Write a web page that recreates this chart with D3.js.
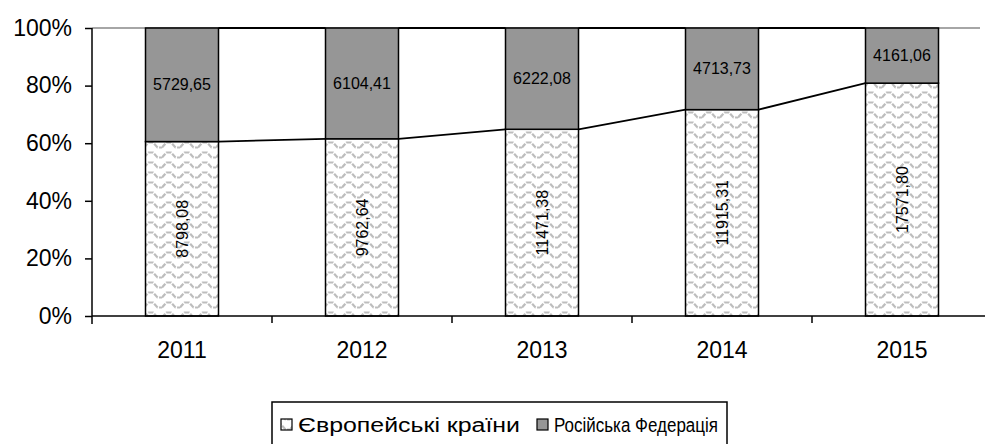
<!DOCTYPE html>
<html>
<head>
<meta charset="utf-8">
<script src="https://cdn.jsdelivr.net/npm/d3@7"></script>
<style>
    body { margin: 0; background: #fff; }
    text { font-family: "Liberation Sans", Arial, sans-serif; fill: #000; }
</style>
</head>
<body>
<div id="chart"></div>
<script>

    // data
    var years = ["2011", "2012", "2013", "2014", "2015"];
    var europe = [8798.08, 9762.64, 11471.38, 11915.31, 17571.80];
    var russia = [5729.65, 6104.41, 6222.08, 4713.73, 4161.06];
    var europeLabels = ["8798,08", "9762,64", "11471,38", "11915,31", "17571,80"];
    var russiaLabels = ["5729,65", "6104,41", "6222,08", "4713,73", "4161,06"];
    var yTicks = [0, 0.2, 0.4, 0.6, 0.8, 1];
    var seriesNames = ["Європейські країни", "Російська Федерація"];

    var width = 985, height = 444;
    var margin = {top: 28, left: 92, bottom: 128};

    var svg = d3.select("#chart")
        .append("svg")
        .attr("width", width)
        .attr("height", height);

    // zigzag pattern for the european part
    var defs = svg.append("defs");
    var pat = defs.append("pattern")
        .attr("id", "zigzag")
        .attr("patternUnits", "userSpaceOnUse")
        .attr("width", 18)
        .attr("height", 10);
    pat.append("rect").attr("width", 18).attr("height", 10).attr("fill", "#fff");
    pat.append("path")
        .attr("d", "M0,7.5 L4.5,2.5 L9,2.5 L13.5,7.5 L18,7.5")
        .attr("fill", "none")
        .attr("stroke", "#bdbdbd")
        .attr("stroke-width", 2.2)
        .attr("stroke-dasharray", "5,1.5");

    var x = d3.scaleBand()
        .domain(years)
        .range([margin.left, margin.left + 900]);

    var y = d3.scaleLinear()
        .domain([0, 1])
        .range([height - margin.bottom, margin.top]);

    var barW = 73;

    var rows = years.map(function (yr, i) {
        var total = europe[i] + russia[i];
        return {year: yr, eu: europe[i], ru: russia[i], share: europe[i] / total,
                euLabel: europeLabels[i], ruLabel: russiaLabels[i]};
    });

    // top gridline at 100%
    svg.append("line")
        .attr("x1", margin.left).attr("x2", width - 5)
        .attr("y1", y(1)).attr("y2", y(1))
        .attr("stroke", "#888")
        .attr("stroke-width", 1.5);

    // bars
    var bars = svg.append("g").selectAll("g.bar")
        .data(rows)
        .enter()
        .append("g");

    bars.append("rect")
        .attr("x", function (d) { return x(d.year) + (x.bandwidth() - barW) / 2; })
        .attr("y", function (d) { return y(d.share); })
        .attr("width", barW)
        .attr("height", function (d) { return y(0) - y(d.share); })
        .attr("fill", "url(#zigzag)")
        .attr("stroke", "#000")
        .attr("stroke-width", 1.5);

    bars.append("rect")
        .attr("x", function (d) { return x(d.year) + (x.bandwidth() - barW) / 2; })
        .attr("y", y(1))
        .attr("width", barW)
        .attr("height", function (d) { return y(d.share) - y(1); })
        .attr("fill", "#969696")
        .attr("stroke", "#000")
        .attr("stroke-width", 1.5);

    // series lines between bars
    var links = rows.slice(0, -1).map(function (d, i) { return [d, rows[i + 1]]; });
    var lineG = svg.append("g");
    lineG.selectAll("line.share")
        .data(links)
        .enter()
        .append("line")
        .attr("x1", function (p) { return x(p[0].year) + (x.bandwidth() + barW) / 2; })
        .attr("x2", function (p) { return x(p[1].year) + (x.bandwidth() - barW) / 2; })
        .attr("y1", function (p) { return y(p[0].share); })
        .attr("y2", function (p) { return y(p[1].share); })
        .attr("stroke", "#000")
        .attr("stroke-width", 1.8);
    lineG.selectAll("line.top")
        .data(links)
        .enter()
        .append("line")
        .attr("x1", function (p) { return x(p[0].year) + (x.bandwidth() + barW) / 2; })
        .attr("x2", function (p) { return x(p[1].year) + (x.bandwidth() - barW) / 2; })
        .attr("y1", y(1))
        .attr("y2", y(1))
        .attr("stroke", "#000")
        .attr("stroke-width", 1.8);

    // value labels
    bars.append("text")
        .attr("x", function (d) { return x(d.year) + x.bandwidth() / 2; })
        .attr("y", function (d) { return (y(1) + y(d.share)) / 2; })
        .attr("dy", "0.35em")
        .style("text-anchor", "middle")
        .style("font-size", "16px")
        .text(function (d) { return d.ruLabel; });

    bars.append("text")
        .attr("transform", function (d) {
            return "translate(" + (x(d.year) + x.bandwidth() / 2) + "," + ((y(0) + y(d.share)) / 2) + ") rotate(-90)";
        })
        .attr("dy", "0.35em")
        .style("text-anchor", "middle")
        .style("font-size", "16px")
        .text(function (d) { return d.euLabel; });

    // y axis
    var yAxis = svg.append("g")
        .attr("transform", "translate(" + margin.left + ",0)")
        .call(d3.axisLeft(y).tickValues(yTicks).tickFormat(d3.format(".0%")).tickSizeOuter(0).tickSize(7).tickPadding(13));
    yAxis.select(".domain").attr("stroke-width", 1.5).attr("d", "M0," + y(1) + "V" + (y(0) + 8));
    yAxis.selectAll(".tick line").attr("stroke-width", 1.5);
    yAxis.selectAll("text").style("font-size", "23px").style("font-family", "Liberation Sans, Arial, sans-serif");

    // x axis
    var xAxis = svg.append("g")
        .attr("transform", "translate(0," + y(0) + ")")
        .call(d3.axisBottom(x).tickSize(0).tickPadding(26));
    xAxis.select(".domain").attr("stroke-width", 1.5).attr("d", "M" + margin.left + ",0H" + width);
    xAxis.selectAll("text").style("font-size", "23px").style("font-family", "Liberation Sans, Arial, sans-serif");
    // ticks between categories
    xAxis.selectAll("line.sep")
        .data(years.slice(1))
        .enter()
        .append("line")
        .attr("x1", function (d) { return x(d); })
        .attr("x2", function (d) { return x(d); })
        .attr("y1", 0).attr("y2", 7)
        .attr("stroke", "#000")
        .attr("stroke-width", 1.5);

    // legend
    var legend = svg.append("g").attr("transform", "translate(272,402)");
    legend.append("rect")
        .attr("x", 0).attr("y", 0)
        .attr("width", 455).attr("height", 60)
        .attr("fill", "#fff")
        .attr("stroke", "#000")
        .attr("stroke-width", 1.5);
    var fills = ["url(#zigzag)", "#969696"];
    var offs = [9, 265];
    var lens = [222, 164];
    seriesNames.forEach(function (name, i) {
        legend.append("rect")
            .attr("x", offs[i]).attr("y", 17)
            .attr("width", 11).attr("height", 11)
            .attr("fill", fills[i])
            .attr("stroke", "#000")
            .attr("stroke-width", 1.2);
        legend.append("text")
            .attr("x", offs[i] + 17)
            .attr("y", 23)
            .attr("dy", "0.35em")
            .attr("textLength", lens[i])
            .attr("lengthAdjust", "spacingAndGlyphs")
            .style("font-size", "20px")
            .text(name);
    });

</script>
</body>
</html>
